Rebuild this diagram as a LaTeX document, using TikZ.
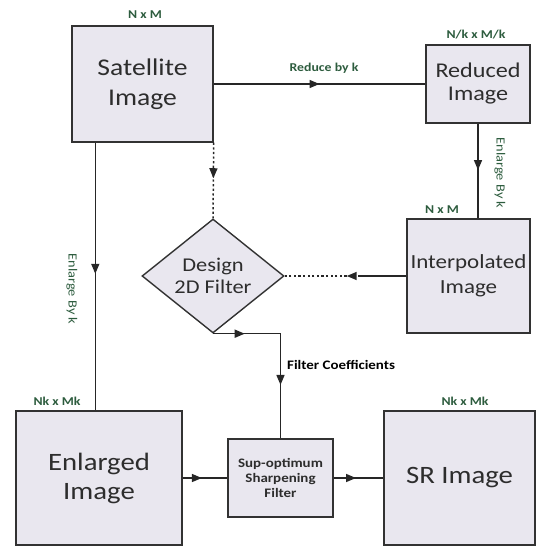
\documentclass[tikz,border=0pt]{standalone}
\usepackage{fontspec}
\setmainfont{Carlito}[FakeStretch=1.15]
\usetikzlibrary{arrows.meta,shapes.geometric,decorations.markings}
\definecolor{boxfill}{RGB}{233,231,239}
\definecolor{edge}{RGB}{50,50,50}
\definecolor{lblgreen}{RGB}{45,92,62}
\definecolor{txt}{RGB}{45,45,45}
\tikzset{
  blk/.style={draw=edge, fill=boxfill, line width=1.4pt, inner sep=0pt, align=center, text=txt},
  conn/.style={draw=black!85, line width=1.5pt},
  dotconn/.style={conn, dash pattern=on 2.2pt off 2.4pt},
  midarrow/.style={postaction={decorate}, decoration={markings, mark=at position #1 with {\arrow{Triangle[length=10pt,width=8pt]}}}},
  dimlbl/.style={text=lblgreen, font=\bfseries\fontsize{12}{14}\selectfont, inner sep=0pt},
  sidelbl/.style={text=lblgreen, font=\fontsize{12.5}{14}\selectfont, inner sep=0pt, rotate=-90},
}
\begin{document}
\begin{tikzpicture}[x=1pt,y=-1pt]
\useasboundingbox (0,0) rectangle (538,546);
% boxes
\node[blk, minimum width=141pt, minimum height=116pt, font=\fontsize{24}{30}\selectfont] (sat) at (142.5,84) {Satellite\\Image};
\node[blk, minimum width=104pt, minimum height=78pt, font=\fontsize{21}{23}\selectfont] (red) at (478,84) {Reduced\\Image};
\node[blk, minimum width=123pt, minimum height=114pt, font=\fontsize{20}{25}\selectfont] (interp) at (468.5,276) {Interpolated\\Image};
\node[blk, diamond, aspect=1.25, minimum width=142pt, minimum height=114pt, font=\fontsize{19.5}{22}\selectfont] (dsg) at (213,276) {Design\\2D Filter};
\node[blk, minimum width=166pt, minimum height=134pt, font=\fontsize{25}{29}\selectfont] (enl) at (99,478) {Enlarged\\Image};
\node[blk, minimum width=105pt, minimum height=78pt, font=\bfseries\fontsize{13}{15}\selectfont] (filt) at (280.5,478) {Sup-optimum\\Sharpening\\Filter};
\node[blk, minimum width=151pt, minimum height=134pt, font=\fontsize{25}{29}\selectfont] (sr) at (459.5,478) {SR Image};
% labels
\node[dimlbl] (l1) at (145,15) {N x M};
\node[dimlbl] (l2) at (476,35) {N/k x M/k};
\node[dimlbl] (l3) at (324,68) {Reduce by k};
\node[sidelbl] (l4) at (500,173) {Enlarge By k};
\node[dimlbl] (l5) at (442,210) {N x M};
\node[sidelbl] (l6) at (72,289) {Enlarge By k};
\node[anchor=west, inner sep=0pt, font=\bfseries\fontsize{13}{15}\selectfont] (l7) at (287,365) {Filter Coefficients};
\node[dimlbl] (l8) at (57,401) {Nk x Mk};
\node[dimlbl] (l9) at (465,401) {Nk x Mk};
% connectors
\draw[conn, midarrow=0.5] (sat.east |- red.west) -- (red.west);
\draw[conn, midarrow=0.49] (red.south) -- (red.south |- interp.north);
\draw[dotconn, midarrow=0.47] (sat.south east) -- (dsg.north);
\coordinate (lft) at ([xshift=24pt]sat.south west);
\draw[conn, midarrow=0.49] (lft) -- (lft |- enl.north);
\coordinate (ib) at ([xshift=-48pt]interp.west);
\draw[conn] (interp.west) -- (ib);
\draw[dotconn, midarrow=0.49] (interp.west) -- (dsg.east);
\coordinate (fc) at (filt.north |- dsg.south);
\draw[conn, midarrow=0.47] (dsg.south) -- (fc);
\draw[conn, midarrow=0.49] (fc) -- (filt.north);
\draw[conn, midarrow=0.43] (enl.east) -- (filt.west);
\draw[conn, midarrow=0.45] (filt.east) -- (sr.west);
\end{tikzpicture}
\end{document}
